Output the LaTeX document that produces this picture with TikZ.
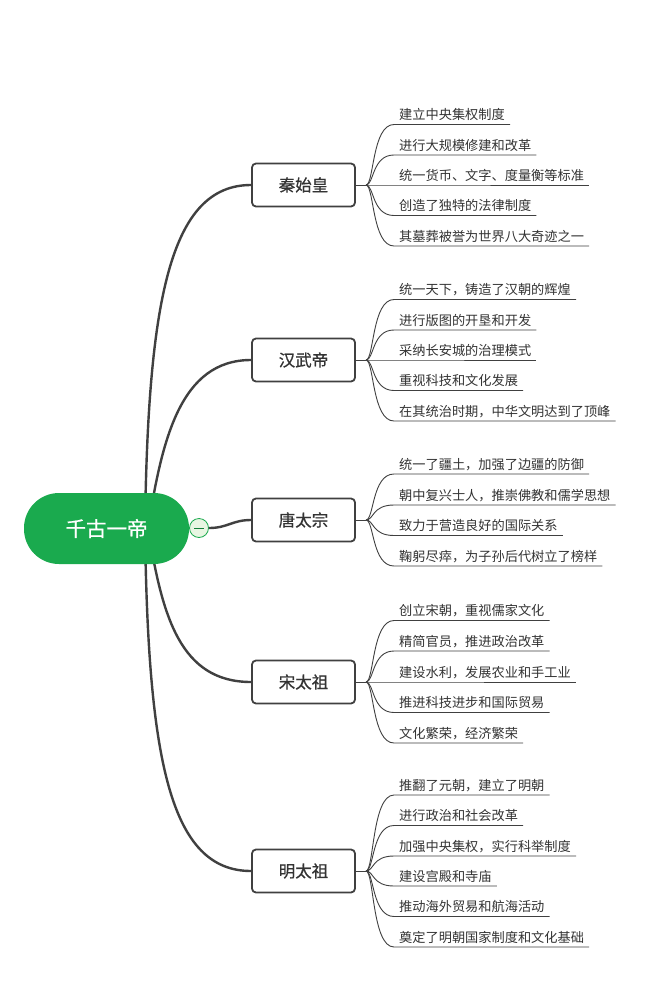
\documentclass[tikz,border=0pt]{standalone}
\usepackage{fontspec}
\newfontfamily\cjk{Noto Sans CJK SC}
\newfontfamily\cjkm[FakeBold=0.7]{Noto Sans CJK SC}
\definecolor{xgreen}{RGB}{26,170,78}
\definecolor{xgreenlight}{RGB}{232,246,226}
\definecolor{ink}{RGB}{51,51,51}
\definecolor{lineink}{RGB}{64,64,64}
\newcommand\mmleaf[4]{%
  \node[leaf] (#2) at (394,#3) {#4};
  \draw[leafline] (#1) .. controls ([xshift=8pt]#1) and ([xshift=-22pt]#2.south west) .. (#2.south west) -- (#2.south east);
}
\begin{document}
\begin{tikzpicture}[x=1pt,y=-1pt,
  mainline/.style={draw=lineink, line width=2.4pt},
  leafline/.style={draw=lineink, line width=0.9pt},
  rootnode/.style={fill=xgreen, rounded corners=35pt, minimum width=165pt, minimum height=71pt, text=white, font=\cjkm\fontsize{20.5}{24}\selectfont, inner sep=0pt},
  branch/.style={draw=lineink, line width=1.8pt, fill=white, rounded corners=4pt, minimum width=103pt, minimum height=43pt, font=\cjkm\fontsize{16.5}{20}\selectfont, text=ink, inner sep=0pt},
  leaf/.style={anchor=south west, inner xsep=5pt, inner ysep=0pt, text height=9.5pt, text depth=4.5pt, font=\cjk\fontsize{13.2}{15}\selectfont, text=ink},
]
\useasboundingbox[fill=white] (0,0) rectangle (669,1001);

% branch boxes
\node[branch] (b1) at (303.5,185) {秦始皇};
\node[branch] (b2) at (303.5,360) {汉武帝};
\node[branch] (b3) at (303.5,520) {唐太宗};
\node[branch] (b4) at (303.5,682) {宋太祖};
\node[branch] (b5) at (303.5,871) {明太祖};

% root anchors
\coordinate (r1) at (145,528);
\coordinate (r2) at (148,528);
\coordinate (r4) at (148,528);
\coordinate (r5) at (145,528);

\draw[mainline] (r1) .. controls (148,300) and (170,185) .. (b1.west);
\draw[mainline] (r2) .. controls (162,440) and (180,360) .. (b2.west);
\draw[mainline] (r4) .. controls (162,616) and (180,682) .. (b4.west);
\draw[mainline] (r5) .. controls (148,760) and (170,871) .. (b5.west);

% root node and collapse marker
\node[rootnode] (root) at (106.5,528.5) {千古一帝};
\node[circle, draw=xgreen, fill=xgreenlight, line width=0.8pt, minimum size=19pt, inner sep=0pt] (col) at (199,528) {};
\draw[xgreen!75!black, line width=0.8pt] ([xshift=-5pt]col.center) -- ([xshift=5pt]col.center);
\draw[mainline] (col.east) .. controls (228,528) and (232,520) .. (b3.west);

% fan origins
\coordinate (f1) at (366,185);
\coordinate (f2) at (366,360);
\coordinate (f3) at (366,520);
\coordinate (f4) at (366,682);
\coordinate (f5) at (366,871);
\foreach \i in {1,...,5} {\draw[leafline] (b\i.east) -- (f\i);}

% leaves
\mmleaf{f1}{a1}{124.5}{建立中央集权制度}
\mmleaf{f1}{a2}{155}{进行大规模修建和改革}
\mmleaf{f1}{a3}{185}{统一货币、文字、度量衡等标准}
\mmleaf{f1}{a4}{215.5}{创造了独特的法律制度}
\mmleaf{f1}{a5}{246}{其墓葬被誉为世界八大奇迹之一}

\mmleaf{f2}{c1}{299.5}{统一天下，铸造了汉朝的辉煌}
\mmleaf{f2}{c2}{330}{进行版图的开垦和开发}
\mmleaf{f2}{c3}{360}{采纳长安城的治理模式}
\mmleaf{f2}{c4}{390.5}{重视科技和文化发展}
\mmleaf{f2}{c5}{421}{在其统治时期，中华文明达到了顶峰}

\mmleaf{f3}{d1}{474}{统一了疆土，加强了边疆的防御}
\mmleaf{f3}{d2}{505}{朝中复兴士人，推崇佛教和儒学思想}
\mmleaf{f3}{d3}{535.5}{致力于营造良好的国际关系}
\mmleaf{f3}{d4}{566}{鞠躬尽瘁，为子孙后代树立了榜样}

\mmleaf{f4}{e1}{620.5}{创立宋朝，重视儒家文化}
\mmleaf{f4}{e2}{651}{精简官员，推进政治改革}
\mmleaf{f4}{e3}{682}{建设水利，发展农业和手工业}
\mmleaf{f4}{e4}{712.5}{推进科技进步和国际贸易}
\mmleaf{f4}{e5}{743}{文化繁荣，经济繁荣}

\mmleaf{f5}{g1}{795}{推翻了元朝，建立了明朝}
\mmleaf{f5}{g2}{825.5}{进行政治和社会改革}
\mmleaf{f5}{g3}{856}{加强中央集权，实行科举制度}
\mmleaf{f5}{g4}{886}{建设宫殿和寺庙}
\mmleaf{f5}{g5}{916.5}{推动海外贸易和航海活动}
\mmleaf{f5}{g6}{947}{奠定了明朝国家制度和文化基础}
\end{tikzpicture}
\end{document}
